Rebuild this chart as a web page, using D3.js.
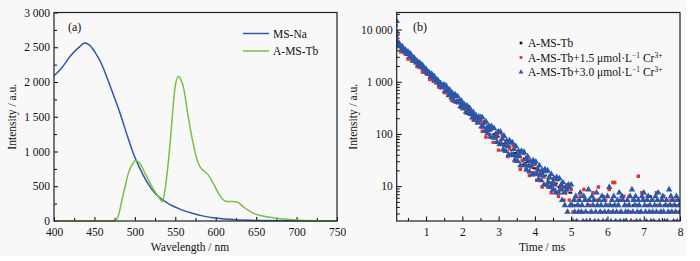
<!DOCTYPE html>
<html>
<head>
<meta charset="utf-8">
<script src="https://cdn.jsdelivr.net/npm/d3@7"></script>
<style>
  body { margin: 0; background: #fff; }
  text { font-family: "Liberation Serif", "Times New Roman", serif; fill: #111; }
</style>
</head>
<body>
<div id="chart"></div>
<script>
// ---- panel (a): emission spectra ----
const naWave = [400,410,420,428,432,438,444,450,458,465,473,482,490,498,506,515,525,540,555,570,585,600,625,650,700,750];
const naValue = [2090,2210,2370,2470,2510,2562,2530,2440,2280,2080,1830,1540,1250,975,760,560,400,262,175,115,70,42,17,8,3,1];

const tbWave = [400,470,476,480,484,488,492,496,501,506,512,519,526,531,534,537,540,543.6,547,549.8,554,557,560,566,572,577,581,586,591,597,603,608,614,621,627,634,641,647,655,663,684,705,730,750];
const tbValue = [0,0,10,90,300,500,685,800,868,835,700,541,400,320,277,420,700,1116,1600,1930,2083,2030,1930,1500,1120,880,770,715,660,540,410,320,280,280,270,205,150,110,80,60,28,10,4,3];

// ---- panel (b): decay curves ----
// red / black series sampled every 0.05 ms
const decayTime = [0.19,0.195,0.2,0.25,0.3,0.35,0.4,0.45,0.5,0.55,0.6,0.65,0.7,0.75,0.8,0.85,0.9,0.95,1,1.05,1.1,1.15,1.2,1.25,1.3,1.35,1.4,1.45,1.5,1.55,1.6,1.65,1.7,1.75,1.8,1.85,1.9,1.95,2,2.05,2.1,2.15,2.2,2.25,2.3,2.35,2.4,2.45,2.5,2.55,2.6,2.65,2.7,2.75,2.8,2.85,2.9,2.95,3,3.05,3.1,3.15,3.2,3.25,3.3,3.35,3.4,3.45,3.5,3.55,3.6,3.65,3.7,3.75,3.8,3.85,3.9,3.95,4,4.05,4.1,4.15,4.2,4.25,4.3,4.35,4.4,4.45,4.5,4.55,4.6,4.65,4.7,4.75,4.8,4.85,4.9,4.95,5,5.05,5.1,5.15,5.2,5.25,5.3,5.35,5.4,5.45,5.5,5.55,5.6,5.65,5.7,5.75,5.8,5.85,5.9,5.95,6,6.05,6.1,6.15,6.2,6.25,6.3,6.35,6.4,6.45,6.5,6.55,6.6,6.65,6.7,6.75,6.8,6.85,6.9,6.95,7,7.05,7.1,7.15,7.2,7.25,7.3,7.35,7.4,7.45,7.5,7.55,7.6,7.65,7.7,7.75,7.8,7.85,7.9,7.95,8];

const decayBlack = [12000,7500,
  5750,4820,4950,4150,4250,3570,3660,3070,3140,2640,2710,2270,2330,1950,2000,1680,1720,1445,1480,1245,
  1275,1070,1100,922,944,792,814,682,699,587,603,505,519,435,447,375,384,323,332,278,286,239,247,207,212,179,
  184,154,159,133,137,115,118,99,102,86,88,74,77,65,66,56,58,48,50,43,44,37,38,32,34,28,29,25,25,22,22,19,20,17,
  18,15,16,13,14,11.8,12.6,10.7,11.2,9.6,10.2,8.6,9.6,7.5,8.6,7.5,7.5,
  3.2,4.3,2.1,5.4,3.2,4.3,6.4,2.1,3.2,5.4,4.3,2.1,3.2,4.3,5.4,2.1,3.2,6.4,4.3,2.1,
  3.2,5.4,4.3,3.2,2.1,4.3,5.4,3.2,2.1,4.3,3.2,6.4,2.1,4.3,5.4,3.2,2.1,4.3,3.2,5.4,
  2.1,4.3,3.2,6.4,2.1,3.2,4.3,5.4,2.1,3.2,4.3,2.1,5.4,3.2,4.3,2.1,3.2,4.3,5.4,2.1];

const decayRed = [9000,6500,
  4710,4820,3770,4460,3560,3450,2720,3170,2510,2500,2480,1960,1910,1950,1530,1800,1440,1400,1100,1280,
  1020,1010,1000,795,773,792,620,732,586,569,448,521,415,412,409,324,315,323,253,299,239,232,183,214,170,169,168,
  113,174,87,124,97,140,69,85,95,49,72,95,48,72,37,52,41,60,30,37,41,21,31,42,21,32,16,23,18,26,
  13,17,19,9.6,15,20,9.6,15,7.5,11.8,8.6,13.4,6.4,8.6,9.6,5.4,7.5,10.7,5.4,8.6,
  3.2,5.4,2.1,4.3,6.4,3.2,8.6,2.1,5.4,4.3,3.2,7.5,2.1,5.4,9.6,3.2,6.4,2.1,5.4,4.3,
  8.6,3.2,11.8,11.8,2.1,4.3,3.2,5.4,6.4,2.1,4.3,6.4,3.2,5.4,2.1,4.3,15.5,3.2,7.5,5.4,
  2.1,6.4,4.3,3.2,5.4,2.1,7.5,4.3,3.2,5.4,6.4,2.1,4.3,3.2,5.4,4.3,2.1,5.4,3.2,4.3];

// blue series sampled every 0.025 ms
const blueTime = [0.19,0.195,
  0.2,0.225,0.25,0.275,0.3,0.325,0.35,0.375,0.4,0.425,0.45,0.475,0.5,0.525,0.55,0.575,0.6,0.625,0.65,0.675,0.7,0.725,0.75,0.775,0.8,0.825,0.85,0.875,0.9,0.925,0.95,0.975,
  1,1.025,1.05,1.075,1.1,1.125,1.15,1.175,1.2,1.225,1.25,1.275,1.3,1.325,1.35,1.375,1.4,1.425,1.45,1.475,1.5,1.525,1.55,1.575,1.6,1.625,1.65,1.675,1.7,1.725,1.75,1.775,1.8,1.825,1.85,1.875,1.9,1.925,1.95,1.975,
  2,2.025,2.05,2.075,2.1,2.125,2.15,2.175,2.2,2.225,2.25,2.275,2.3,2.325,2.35,2.375,2.4,2.425,2.45,2.475,2.5,2.525,2.55,2.575,2.6,2.625,2.65,2.675,2.7,2.725,2.75,2.775,2.8,2.825,2.85,2.875,2.9,2.925,2.95,2.975,
  3,3.025,3.05,3.075,3.1,3.125,3.15,3.175,3.2,3.225,3.25,3.275,3.3,3.325,3.35,3.375,3.4,3.425,3.45,3.475,3.5,3.525,3.55,3.575,3.6,3.625,3.65,3.675,3.7,3.725,3.75,3.775,3.8,3.825,3.85,3.875,3.9,3.925,3.95,3.975,
  4,4.025,4.05,4.075,4.1,4.125,4.15,4.175,4.2,4.225,4.25,4.275,4.3,4.325,4.35,4.375,4.4,4.425,4.45,4.475,4.5,4.525,4.55,4.575,4.6,4.625,4.65,4.675,4.7,4.725,4.75,4.775,4.8,4.825,4.85,4.875,4.9,4.925,4.95,4.975,
  5,5.025,5.05,5.075,5.1,5.125,5.15,5.175,5.2,5.225,5.25,5.275,5.3,5.325,5.35,5.375,5.4,5.425,5.45,5.475,5.5,5.525,5.55,5.575,5.6,5.625,5.65,5.675,5.7,5.725,5.75,5.775,5.8,5.825,5.85,5.875,5.9,5.925,5.95,5.975,
  6,6.025,6.05,6.075,6.1,6.125,6.15,6.175,6.2,6.225,6.25,6.275,6.3,6.325,6.35,6.375,6.4,6.425,6.45,6.475,6.5,6.525,6.55,6.575,6.6,6.625,6.65,6.675,6.7,6.725,6.75,6.775,6.8,6.825,6.85,6.875,6.9,6.925,6.95,6.975,
  7,7.025,7.05,7.075,7.1,7.125,7.15,7.175,7.2,7.225,7.25,7.275,7.3,7.325,7.35,7.375,7.4,7.425,7.45,7.475,7.5,7.525,7.55,7.575,7.6,7.625,7.65,7.675,7.7,7.725,7.75,7.775,7.8,7.825,7.85,7.875,7.9,7.925,7.95,7.975,
  8];

const decayBlue = [14500,8800,
  5800,5000,5530,4740,4850,4170,4670,4160,3800,4090,3790,3360,3760,3550,3070,3390,2900,2970,2550,2860,
  2550,2330,2510,2330,2060,2300,2170,1880,2080,1780,1820,1560,1750,1560,1430,1530,1420,1260,1410,1330,
  1150,1270,1090,1110,959,1070,956,874,940,871,772,863,
  864,668,843,647,695,548,700,573,502,604,528,432,568,529,409,516,397,426,336,430,
  351,307,370,324,265,348,324,250,316,243,260,206,263,215,188,227,198,162,213,198,
  209,138,207,137,163,113,173,125,104,144,120,88,140,129,85,128,85,100,70,107,
  109,63,110,64,81,50,91,60,47,74,58.5,40,75,68,39,69,40,51,32,58,38,30,47,37,25,47,44,25,45,26,
  33,20.5,37,24.5,19,30,24.5,16.6,31,28,16.8,29.5,16.9,21.6,13.5,24.6,16.3,12.9,20.3,16.1,
  10.7,21,19.2,10.7,19.9,11.8,14.8,9.6,16.9,10.7,8.6,14.2,10.7,7.5,14.8,13.5,7.5,14.1,8.6,10.7,
  5.4,11.8,7.5,4.3,9.6,8.6,3.2,10.7,9.6,4.3,10.7,
  4.3,2.1,5.4,3.2,6.4,2.1,4.3,3.2,5.4,7.5, 3.2,4.3,2.1,6.4,5.4,3.2,2.1,4.3,8.6,5.4,
  2.1,3.2,6.4,4.3,5.4,2.1,3.2,7.5,4.3,2.1, 5.4,3.2,4.3,6.4,2.1,5.4,3.2,4.3,2.1,6.4,
  3.2,9.6,4.3,2.1,5.4,3.2,6.4,4.3,2.1,3.2, 5.4,4.3,7.5,2.1,3.2,6.4,5.4,2.1,4.3,3.2,
  2.1,5.4,3.2,4.3,6.4,2.1,8.6,3.2,5.4,4.3, 6.4,2.1,3.2,5.4,4.3,2.1,3.2,6.4,5.4,7.5,
  4.3,3.2,2.1,5.4,6.4,3.2,4.3,2.1,5.4,3.2, 2.1,4.3,6.4,3.2,5.4,7.5,2.1,4.3,3.2,5.4,
  6.4,3.2,2.1,4.3,5.4,2.1,3.2,8.6,4.3,6.4, 3.2,5.4,2.1,4.3,3.2,6.4,2.1,5.4,4.3,3.2];

const spectrumTicks = [0, 500, 1000, 1500, 2000, 2500, 3000];
const waveTicks = [400, 450, 500, 550, 600, 650, 700, 750];
const timeTicks = [1, 2, 3, 4, 5, 6, 7, 8];
const decayTicks = [10, 100, 1000, 10000];

const blueLine = "#2f58a8";
const greenLine = "#77c043";
const blueDot = "#2c57a9";
const redDot = "#e8302c";

const W = 700, H = 261;
const svg = d3.select("#chart").append("svg")
  .attr("width", W).attr("height", H);

// light grey page area like the scanned figure
svg.append("rect").attr("x", 0).attr("y", 0).attr("width", 687).attr("height", 256)
  .attr("fill", "#f8f8f8");

const fmt = (v) => d3.format(",")(v).replace(/,/g, " ");

// panel boxes
const boxA = { left: 54, right: 337, top: 12.5, bottom: 221 };
const boxB = { left: 396.7, right: 680, top: 12.5, bottom: 221 };

// ---------- panel (a) ----------
const xA = d3.scaleLinear().domain([400, 750]).range([boxA.left, boxA.right]);
const yA = d3.scaleLinear().domain([0, 3000]).range([boxA.bottom, boxA.top]);

const gA = svg.append("g");

// minor ticks first
gA.append("g")
  .attr("transform", `translate(0,${boxA.bottom})`)
  .call(d3.axisBottom(xA).tickValues(d3.range(425, 750, 50)).tickSize(-3).tickFormat(""))
  .call((g) => g.select(".domain").remove());
gA.append("g")
  .attr("transform", `translate(${boxA.left},0)`)
  .call(d3.axisLeft(yA).tickValues(d3.range(250, 3000, 500)).tickSize(-3).tickFormat(""))
  .call((g) => g.select(".domain").remove());

const axA = gA.append("g")
  .attr("transform", `translate(0,${boxA.bottom})`)
  .call(d3.axisBottom(xA).tickValues(waveTicks).tickSize(-4).tickPadding(7));
axA.select(".domain").remove();
axA.selectAll("text").style("font-size", "11.5px").style("font-family", "Liberation Serif");

const ayA = gA.append("g")
  .attr("transform", `translate(${boxA.left},0)`)
  .call(d3.axisLeft(yA).tickValues(spectrumTicks).tickSize(-4).tickPadding(4).tickFormat(fmt));
ayA.select(".domain").remove();
ayA.selectAll("text").style("font-size", "11.5px").style("font-family", "Liberation Serif");

const lineA = (xs, ys) => d3.line()
  .x((d, i) => xA(xs[i]))
  .y((d, i) => yA(ys[i]))
  .curve(d3.curveMonotoneX)(xs);

gA.append("path").attr("d", lineA(naWave, naValue))
  .attr("fill", "none").attr("stroke", blueLine).attr("stroke-width", 1.5);
gA.append("path").attr("d", lineA(tbWave, tbValue))
  .attr("fill", "none").attr("stroke", greenLine).attr("stroke-width", 1.5);

gA.append("rect")
  .attr("x", boxA.left).attr("y", boxA.top)
  .attr("width", boxA.right - boxA.left).attr("height", boxA.bottom - boxA.top)
  .attr("fill", "none").attr("stroke", "#222").attr("stroke-width", 1.2);

gA.append("text").attr("x", 68).attr("y", 31).style("font-size", "12px").text("(a)");

// legend (a)
const legA = [["MS-Na", blueLine], ["A-MS-Tb", greenLine]];
legA.forEach(([name, col], i) => {
  const y = 33.5 + i * 17.5;
  gA.append("line").attr("x1", 243).attr("x2", 269).attr("y1", y).attr("y2", y)
    .attr("stroke", col).attr("stroke-width", 1.5);
  gA.append("text").attr("x", 273).attr("y", y + 4).style("font-size", "11.5px").text(name);
});

gA.append("text")
  .attr("x", 190).attr("y", 251)
  .attr("text-anchor", "middle").style("font-size", "11.5px")
  .text("Wavelength / nm");
gA.append("text")
  .attr("transform", `translate(16,${(boxA.top + boxA.bottom) / 2}) rotate(-90)`)
  .attr("text-anchor", "middle").style("font-size", "11.5px")
  .text("Intensity / a.u.");

// ---------- panel (b) ----------
const xB = d3.scaleLinear().domain([0.19, 8]).range([boxB.left, boxB.right]);
const yB = d3.scaleLog().domain([2.15, 21200]).range([boxB.bottom, boxB.top]);

const gB = svg.append("g");

svg.append("clipPath").attr("id", "clipB").append("rect")
  .attr("x", boxB.left).attr("y", boxB.top)
  .attr("width", boxB.right - boxB.left).attr("height", boxB.bottom - boxB.top);

const minorLog = [];
[1, 10, 100, 1000, 10000].forEach((p) => {
  for (let k = 2; k <= 9; k++) {
    const v = k * p;
    if (v > 2.15 && v < 21200) minorLog.push(v);
  }
});

gB.append("g")
  .attr("transform", `translate(0,${boxB.bottom})`)
  .call(d3.axisBottom(xB).tickValues([0.5, 1.5, 2.5, 3.5, 4.5, 5.5, 6.5, 7.5]).tickSize(-3).tickFormat(""))
  .call((g) => g.select(".domain").remove());
gB.append("g")
  .attr("transform", `translate(${boxB.left},0)`)
  .call(d3.axisLeft(yB).tickValues(minorLog).tickSize(-3).tickFormat(""))
  .call((g) => g.select(".domain").remove());

const axB = gB.append("g")
  .attr("transform", `translate(0,${boxB.bottom})`)
  .call(d3.axisBottom(xB).tickValues(timeTicks).tickSize(-4.5).tickPadding(7));
axB.select(".domain").remove();
axB.selectAll("text").style("font-size", "11.5px").style("font-family", "Liberation Serif");

const ayB = gB.append("g")
  .attr("transform", `translate(${boxB.left},0)`)
  .call(d3.axisLeft(yB).tickValues(decayTicks).tickSize(-5).tickPadding(4).tickFormat(fmt));
ayB.select(".domain").remove();
ayB.selectAll("text").style("font-size", "11.5px").style("font-family", "Liberation Serif");

const dots = gB.append("g").attr("clip-path", "url(#clipB)");
const series = [
  { times: decayTime, vals: decayBlack, color: "#111", shape: d3.symbolSquare, size: 4 },
  { times: decayTime, vals: decayRed, color: redDot, shape: d3.symbolSquare, size: 12 },
  { times: blueTime, vals: decayBlue, color: blueDot, shape: d3.symbolTriangle, size: 18 }
];
series.forEach((s) => {
  const pts = s.times.map((t, i) => [t, s.vals[i]]).filter((d) => d[1] != null);
  dots.append("g").selectAll("path")
    .data(pts)
    .enter()
    .append("path")
    .attr("d", d3.symbol().type(s.shape).size(s.size))
    .attr("transform", (d) => `translate(${xB(d[0])},${yB(d[1])})`)
    .attr("fill", s.color);
});

gB.append("rect")
  .attr("x", boxB.left).attr("y", boxB.top)
  .attr("width", boxB.right - boxB.left).attr("height", boxB.bottom - boxB.top)
  .attr("fill", "none").attr("stroke", "#222").attr("stroke-width", 1.2);

gB.append("text").attr("x", 413).attr("y", 31).style("font-size", "12px").text("(b)");

// legend (b)
const legB = [
  { label: "A-MS-Tb", conc: null, color: "#111", shape: d3.symbolSquare, size: 7 },
  { label: "A-MS-Tb+1.5 \u03bcmol\u00b7L", conc: true, color: redDot, shape: d3.symbolSquare, size: 8 },
  { label: "A-MS-Tb+3.0 \u03bcmol\u00b7L", conc: true, color: blueDot, shape: d3.symbolTriangle, size: 10 }
];
legB.forEach((d, i) => {
  const y = 43 + i * 14.5;
  gB.append("path").attr("d", d3.symbol().type(d.shape).size(d.size)())
    .attr("transform", `translate(521,${y})`).attr("fill", d.color);
  const t = gB.append("text").attr("x", 528).attr("y", y + 4).style("font-size", "11.5px");
  t.append("tspan").text(d.label);
  if (d.conc) {
    t.append("tspan").attr("dy", -4).style("font-size", "7.5px").text("\u22121");
    t.append("tspan").attr("dy", 4).text(" Cr");
    t.append("tspan").attr("dy", -4).style("font-size", "7.5px").text("3+");
  }
});

gB.append("text")
  .attr("x", 542).attr("y", 251)
  .attr("text-anchor", "middle").style("font-size", "11.5px")
  .text("Time / ms");
gB.append("text")
  .attr("transform", `translate(357,${(boxB.top + boxB.bottom) / 2}) rotate(-90)`)
  .attr("text-anchor", "middle").style("font-size", "11.5px")
  .text("Intensity / a.u.");
</script>
</body>
</html>
